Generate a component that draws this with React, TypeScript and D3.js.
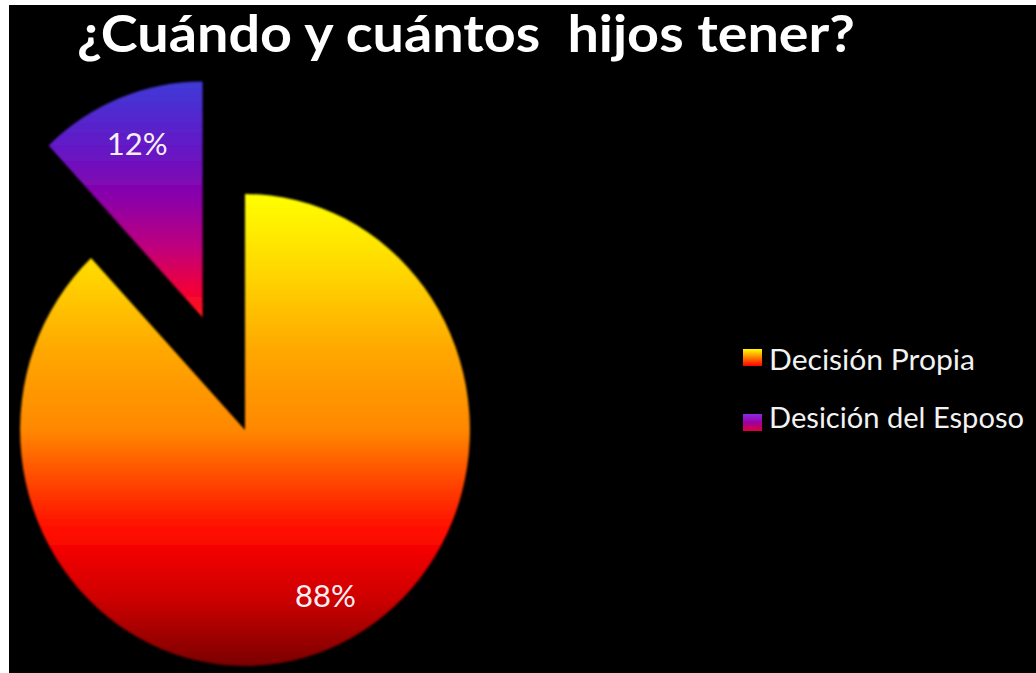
import React from 'react';
import * as d3 from 'd3';

const title = '¿Cuándo y cuántos  hijos tener?';
const categories = ['Decisión Propia', 'Desición del Esposo'];
const values = [88, 12];
const labels = ['88%', '12%'];

const W = 1036;
const H = 673;
const FONT = "Lato, 'Open Sans', 'Noto Sans', sans-serif";

export default function App() {
  const cx = 245;
  const cy = 430;
  const R = 236;
  const sx = 0.953;
  const explode = [0, 121];
  const labelNudge = [
    [15, -7],
    [0, 0],
  ];

  const pie = d3
    .pie<number>()
    .sort(null)
    .startAngle(0)
    .endAngle(2 * Math.PI)
    .value((d) => d);
  const arcs = pie(values);
  const arc = d3.arc<d3.PieArcDatum<number>>().innerRadius(0).outerRadius(R);
  const labelArc = d3
    .arc<d3.PieArcDatum<number>>()
    .innerRadius(R * 0.79)
    .outerRadius(R * 0.79);

  const fills = ['url(#gFire)', 'url(#gPurple)'];
  const legendFills = ['url(#lgFire)', 'url(#lgPurple)'];
  const legendSquareY = [349, 414];
  const legendTextY = [370, 428];

  return (
    <svg
      width={W}
      height={H}
      style={{ position: 'absolute', left: 0, top: 0, display: 'block' }}
    >
      <defs>
        <linearGradient id="gFire" x1="0" y1="0" x2="0" y2="1">
          <stop offset="0" stopColor="#ffff00" />
          <stop offset="0.16" stopColor="#ffd800" />
          <stop offset="0.33" stopColor="#ffa800" />
          <stop offset="0.5" stopColor="#ff8800" />
          <stop offset="0.62" stopColor="#ff4000" />
          <stop offset="0.72" stopColor="#ff0800" />
          <stop offset="0.86" stopColor="#cc0000" />
          <stop offset="1" stopColor="#7a0000" />
        </linearGradient>
        <linearGradient id="gPurple" x1="0" y1="0" x2="0" y2="1">
          <stop offset="0" stopColor="#3f3ad8" />
          <stop offset="0.3" stopColor="#6716c4" />
          <stop offset="0.5" stopColor="#8c00a8" />
          <stop offset="0.7" stopColor="#be007e" />
          <stop offset="0.88" stopColor="#f0003a" />
          <stop offset="1" stopColor="#ff1a14" />
        </linearGradient>
        <linearGradient id="lgFire" x1="0" y1="0" x2="0" y2="1">
          <stop offset="0" stopColor="#ffff00" />
          <stop offset="0.5" stopColor="#ff8000" />
          <stop offset="1" stopColor="#ff0000" />
        </linearGradient>
        <linearGradient id="lgPurple" x1="0" y1="0" x2="0" y2="1">
          <stop offset="0" stopColor="#8a2be2" />
          <stop offset="0.5" stopColor="#9b00a0" />
          <stop offset="1" stopColor="#e0003a" />
        </linearGradient>
        <filter id="soft" x="-5%" y="-5%" width="110%" height="110%">
          <feGaussianBlur stdDeviation="0.9" />
        </filter>
      </defs>

      <rect x={0} y={0} width={W} height={H} fill="#ffffff" />
      <rect x={9} y={5} width={W - 9} height={H - 5} fill="#000000" />

      <text
        x={77}
        y={52}
        fill="#ffffff"
        fontFamily={FONT}
        fontWeight={700}
        fontSize={52}
        textLength={778}
        lengthAdjust="spacingAndGlyphs"
        style={{ whiteSpace: 'pre' }}
      >
        {title}
      </text>

      <g transform={`translate(${cx},${cy}) scale(${sx},1)`}>
        {arcs.map((a, i) => {
          const mid = (a.startAngle + a.endAngle) / 2;
          const ox = Math.sin(mid) * explode[i];
          const oy = -Math.cos(mid) * explode[i];
          return (
            <path
              key={categories[i]}
              d={arc(a) as string}
              transform={`translate(${ox},${oy})`}
              fill={fills[i]}
              filter="url(#soft)"
            />
          );
        })}
      </g>

      {arcs.map((a, i) => {
        const mid = (a.startAngle + a.endAngle) / 2;
        const ox = Math.sin(mid) * explode[i];
        const oy = -Math.cos(mid) * explode[i];
        const [lx, ly] = labelArc.centroid(a);
        const px = cx + (lx + ox) * sx + labelNudge[i][0];
        const py = cy + ly + oy + labelNudge[i][1];
        return (
          <text
            key={labels[i]}
            x={px}
            y={py + 11}
            textAnchor="middle"
            fill="#f8eef4"
            fontFamily={FONT}
            fontSize={31}
          >
            {labels[i]}
          </text>
        );
      })}

      {categories.map((c, i) => (
        <g key={c}>
          <rect
            x={743}
            y={legendSquareY[i]}
            width={19}
            height={17}
            fill={legendFills[i]}
          />
          <text
            x={769}
            y={legendTextY[i]}
            fill="#f2f2f2"
            fontFamily={FONT}
            fontSize={29}
            textLength={i === 0 ? 206 : 255}
            lengthAdjust="spacingAndGlyphs"
          >
            {c}
          </text>
        </g>
      ))}
    </svg>
  );
}
